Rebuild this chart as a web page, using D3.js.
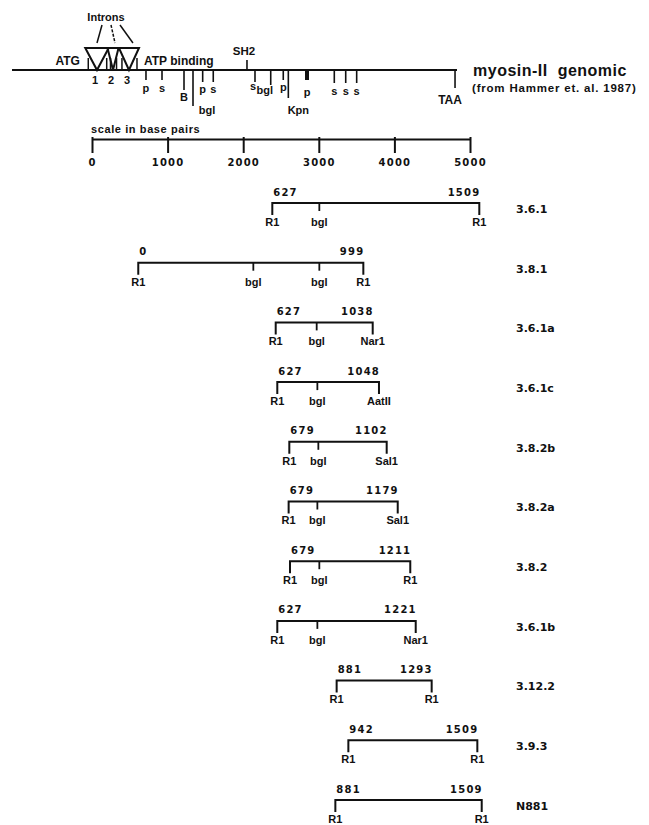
<!DOCTYPE html>
<html lang="en">
<head>
<meta charset="utf-8">
<script src="https://cdnjs.cloudflare.com/ajax/libs/d3/7.8.5/d3.min.js"></script>
<style>
html, body { margin: 0; padding: 0; background: #fff; }
svg { display: block; }
text { font-family: 'Liberation Sans', Arial, sans-serif; font-weight: bold; fill: #111; }
.num { font-family: 'DejaVu Sans', sans-serif; font-size: 10px; letter-spacing: 1.2px; }
.name { font-family: 'DejaVu Sans', sans-serif; font-size: 11px; }
.site { font-size: 11px; }
.narrow { font-family: 'Liberation Sans Narrow', 'Liberation Sans', sans-serif; }
line, path { stroke: #111; fill: none; }
</style>
</head>
<body>
<svg width="649" height="825"></svg>
<script>
const mapSpan = [-1058, 4828];
const intronNums = ['1', '2', '3'];
const intronPos = [66, 278, 489];
const intronWidth = [310, 146, 265];
const siteNames = ['p', 's', 'B', 'bgl', 'p', 's', 's', 'bgl', 'p', 'Kpn', 'p', 's', 's', 's', 'TAA'];
const sitePos = [714, 926, 1217, 1336, 1464, 1604, 2156, 2364, 2530, 2597, 2844, 3205, 3356, 3501, 4802];
const noteNames = ['ATG', 'ATP binding', 'SH2'];
const notePos = [-159, 688, 2050];

// scale bar
const scaleTicks = [0, 1000, 2000, 3000, 4000, 5000];

// clones
const cloneNames = ['3.6.1', '3.8.1', '3.6.1a', '3.6.1c', '3.8.2b', '3.8.2a', '3.8.2', '3.6.1b', '3.12.2', '3.9.3', 'N881'];
const cloneFrom = [627, 0, 627, 627, 679, 679, 679, 627, 881, 942, 881];
const cloneTo = [1509, 999, 1038, 1048, 1102, 1179, 1211, 1221, 1293, 1509, 1509];
const cloneStart = [2385, 612, 2430, 2451, 2610, 2601, 2619, 2451, 3236, 3391, 3219];
const cloneEnd = [5123, 3589, 3713, 3796, 3898, 4044, 4210, 4282, 4493, 5097, 5155];
const cloneEndSite = ['R1', 'R1', 'Nar1', 'AatII', 'Sal1', 'Sal1', 'R1', 'Nar1', 'R1', 'R1', 'R1'];
const cloneBgl = [[3007], [2134, 3007], [2972], [2981], [2994], [2981], [3007], [2981], [], [], []];

// layout for the map sites (tick length, label offsets)
const siteDrop = [10, 10, 20, 36, 12, 12, 12, 15, 10, 28, 10, 13, 13, 13, 18];
const siteDx = [0, 0, 0, 14, 0, 0, -2, -6, 0, 10, 0, 0, 0, 0, -5];
const siteDy = [8, 8, 7, 4, 7, 7, 4, 5, 7, 12, 12, 8, 8, 8, 12];

const svg = d3.select('svg');
const x = d3.scaleLinear().domain([0, 5000]).range([92, 470]);
const mapY = 70;
const barY = 139;
const row = d3.scalePoint().domain(cloneNames).range([203, 800]);

// ---- genomic map ----
const map = svg.append('g');
map.append('line')
  .attr('x1', x(mapSpan[0])).attr('x2', x(mapSpan[1]))
  .attr('y1', mapY).attr('y2', mapY)
  .attr('stroke-width', 2);

intronPos.forEach((p, i) => {
  const l = x(p - intronWidth[i] / 2), r = x(p + intronWidth[i] / 2);
  map.append('path')
    .attr('d', `M${l},${mapY - 22}H${r}L${x(p)},${mapY}Z`)
    .attr('stroke-width', 2);
  map.append('line').attr('x1', l + 3).attr('x2', l + 3)
    .attr('y1', mapY - 12).attr('y2', mapY).attr('stroke-width', 1.5);
  map.append('line').attr('x1', r - 2).attr('x2', r - 2)
    .attr('y1', mapY - 12).attr('y2', mapY).attr('stroke-width', 1.5);
  map.append('text')
    .attr('x', x(p) - 2).attr('y', mapY + 10).attr('dy', '0.35em')
    .attr('text-anchor', 'middle').style('font-size', '11px')
    .text(intronNums[i]);
  map.append('line')
    .attr('x1', 102 + i * 9).attr('y1', 25)
    .attr('x2', x(p) + i * 2).attr('y2', 43)
    .attr('stroke-width', 1.5)
    .attr('stroke-dasharray', i === 1 ? '3 1.5' : null);
});

map.append('text')
  .attr('class', 'narrow')
  .attr('x', 106).attr('y', 17).attr('dy', '0.35em')
  .attr('text-anchor', 'middle').style('font-size', '11px')
  .text('Introns');

siteNames.forEach((s, i) => {
  const sx = x(sitePos[i]);
  map.append('line')
    .attr('x1', sx).attr('x2', sx)
    .attr('y1', mapY).attr('y2', mapY + siteDrop[i])
    .attr('stroke-width', i === 10 ? 4 : 1.6);
  map.append('text')
    .attr('class', 'site')
    .attr('x', sx + siteDx[i])
    .attr('y', mapY + siteDrop[i] + siteDy[i]).attr('dy', '0.35em')
    .attr('text-anchor', 'middle')
    .style('font-size', s === 'TAA' ? '12px' : null)
    .text(s);
});

// ATG / ATP binding / SH2
map.append('text')
  .attr('x', x(notePos[0])).attr('y', 61).attr('dy', '0.35em')
  .attr('text-anchor', 'end').style('font-size', '12px')
  .text(noteNames[0]);
map.append('text')
  .attr('x', x(notePos[1])).attr('y', 61).attr('dy', '0.35em')
  .style('font-size', '12px')
  .text(noteNames[1]);
map.append('line')
  .attr('x1', x(notePos[2])).attr('x2', x(notePos[2]))
  .attr('y1', mapY - 10).attr('y2', mapY).attr('stroke-width', 1.6);
map.append('text')
  .attr('class', 'narrow')
  .attr('x', x(notePos[2]) - 3).attr('y', 51).attr('dy', '0.35em')
  .attr('text-anchor', 'middle').style('font-size', '11.5px')
  .text(noteNames[2]);

map.append('text')
  .attr('x', 473).attr('y', 70).attr('dy', '0.35em')
  .style('font-size', '16px').style('letter-spacing', '0.5px')
  .style('white-space', 'pre')
  .text('myosin-II  genomic');
map.append('text')
  .attr('x', 472).attr('y', 88).attr('dy', '0.35em')
  .style('font-size', '11.5px').style('letter-spacing', '0.8px')
  .text('(from Hammer et. al. 1987)');

// ---- scale bar ----
svg.append('text')
  .attr('x', 91).attr('y', 129).attr('dy', '0.35em')
  .style('font-size', '11px').style('letter-spacing', '0.6px')
  .text('scale in base pairs');

const axis = svg.append('g')
  .attr('transform', `translate(0,${barY})`)
  .call(d3.axisBottom(x).tickValues(scaleTicks).tickSizeInner(14).tickSizeOuter(0).tickPadding(6)
    .tickFormat(d3.format('d')));
axis.select('.domain').attr('stroke', '#111').attr('stroke-width', 2);
axis.selectAll('.tick line').attr('stroke', '#111').attr('stroke-width', 2).attr('y1', -2);
axis.selectAll('.tick text')
  .attr('class', 'num')
  .attr('fill', '#111')
  .attr('font-size', null).attr('font-family', null);
axis.attr('font-size', null).attr('font-family', null);

// ---- clones ----
const clones = cloneNames.map((name, i) => ({
  name, from: cloneFrom[i], to: cloneTo[i],
  start: cloneStart[i], end: cloneEnd[i],
  endSite: cloneEndSite[i], bgl: cloneBgl[i]
}));

const cg = svg.selectAll('.clone')
  .data(clones)
  .enter()
  .append('g')
  .classed('clone', true)
  .attr('transform', d => `translate(0,${row(d.name)})`);

cg.append('path')
  .attr('d', d => `M${x(d.start)},12V0H${x(d.end)}V12`)
  .attr('stroke-width', 2);

cg.each(function (d) {
  const g = d3.select(this);
  d.bgl.forEach(b => {
    g.append('line')
      .attr('x1', x(b)).attr('x2', x(b))
      .attr('y1', 0).attr('y2', 8)
      .attr('stroke-width', 1.8);
    g.append('text')
      .attr('class', 'site')
      .attr('x', x(b)).attr('y', 19).attr('dy', '0.35em')
      .attr('text-anchor', 'middle')
      .text('bgl');
  });
});

cg.append('text')
  .attr('class', 'site')
  .attr('x', d => x(d.start)).attr('y', 19).attr('dy', '0.35em')
  .attr('text-anchor', 'middle')
  .text('R1');

cg.append('text')
  .attr('class', 'site')
  .attr('x', d => x(d.end)).attr('y', 19).attr('dy', '0.35em')
  .attr('text-anchor', 'middle')
  .text(d => d.endSite);

cg.append('text')
  .attr('class', 'num')
  .attr('x', d => x(d.start) + 1).attr('y', -11).attr('dy', '0.35em')
  .text(d => d.from);

cg.append('text')
  .attr('class', 'num')
  .attr('x', d => x(d.end) + 1).attr('y', -11).attr('dy', '0.35em')
  .attr('text-anchor', 'end')
  .text(d => d.to);

cg.append('text')
  .attr('class', 'name')
  .attr('x', 516).attr('y', 6).attr('dy', '0.35em')
  .text(d => d.name);
</script>
</body>
</html>
